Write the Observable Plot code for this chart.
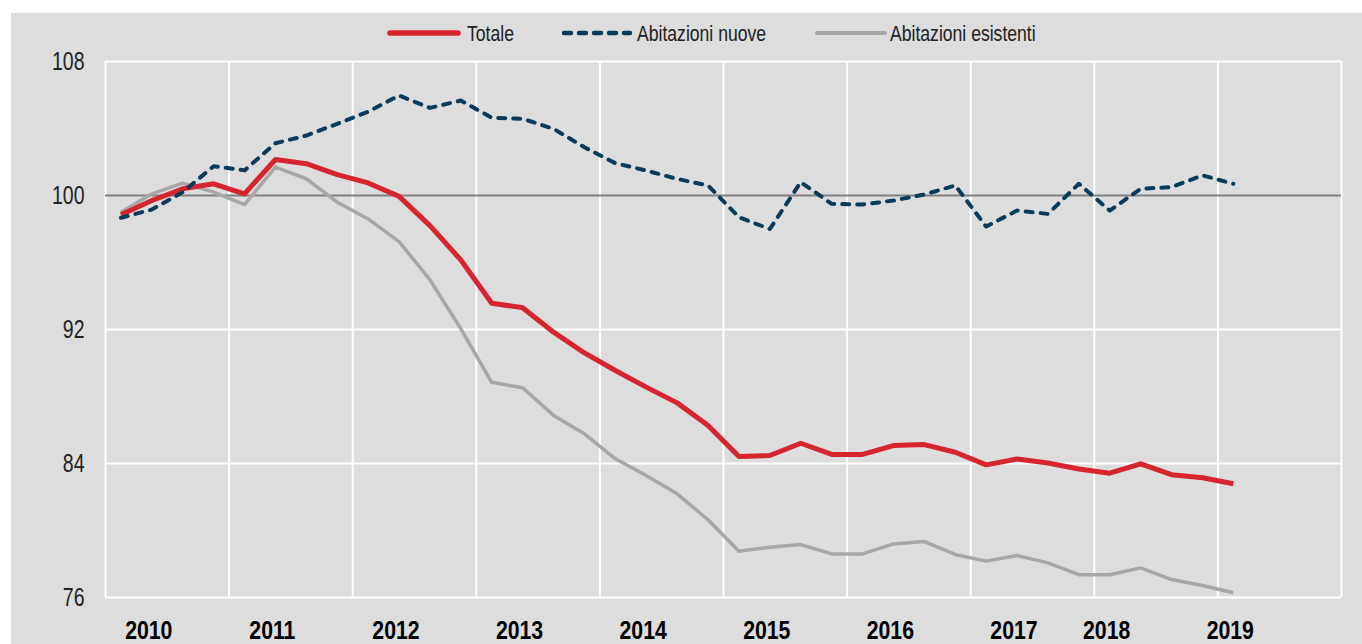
<!DOCTYPE html>
<html>
<head>
<meta charset="utf-8">
<script src="https://cdn.jsdelivr.net/npm/d3@7"></script>
<script src="https://cdn.jsdelivr.net/npm/@observablehq/plot@0.6"></script>
<style>
  html, body { margin: 0; padding: 0; background: #ffffff; }
  body { width: 1362px; height: 644px; overflow: hidden; position: relative; }
  #panel {
    position: absolute; left: 11px; top: 13px; width: 1351px; height: 631px;
    background: #dddddd; overflow: hidden;
    font-family: "Liberation Sans Narrow", "Arial Narrow", "Liberation Sans", Arial, sans-serif;
  }
  #legend, #chart { line-height: 0; }
  #legend svg, #chart svg { display: block; }
</style>
</head>
<body>
<div id="panel">
  <div id="legend"></div>
  <div id="chart"></div>
</div>
<script>
// Quarterly axis categories (2010 T1 .. 2019 T4)
const quarters = [
  "2010 T1","2010 T2","2010 T3","2010 T4",
  "2011 T1","2011 T2","2011 T3","2011 T4",
  "2012 T1","2012 T2","2012 T3","2012 T4",
  "2013 T1","2013 T2","2013 T3","2013 T4",
  "2014 T1","2014 T2","2014 T3","2014 T4",
  "2015 T1","2015 T2","2015 T3","2015 T4",
  "2016 T1","2016 T2","2016 T3","2016 T4",
  "2017 T1","2017 T2","2017 T3","2017 T4",
  "2018 T1","2018 T2","2018 T3","2018 T4",
  "2019 T1","2019 T2","2019 T3","2019 T4"
];

// Series values (2010 T1 .. 2019 T1)
const totale = [98.85, 99.7, 100.4, 100.7, 100.1, 102.15, 101.9, 101.25, 100.75, 99.95,
  98.2, 96.15, 93.57, 93.3, 91.84, 90.6, 89.55, 88.56, 87.62, 86.27,
  84.42, 84.48, 85.21, 84.54, 84.54, 85.07, 85.13, 84.67, 83.92, 84.27,
  84.03, 83.67, 83.42, 83.98, 83.33, 83.15, 82.79];
const nuove = [98.67, 99.16, 100.2, 101.75, 101.5, 103.12, 103.58, 104.28, 105.0, 105.97,
  105.23, 105.67, 104.64, 104.58, 103.98, 102.88, 101.93, 101.49, 100.99, 100.6,
  98.7, 98.0, 100.8, 99.5, 99.46, 99.7, 100.06, 100.6, 98.15, 99.1,
  98.9, 100.7, 99.1, 100.4, 100.5, 101.2, 100.7];
const esistenti = [99.0, 100.1, 100.74, 100.2, 99.46, 101.7, 101.0, 99.6, 98.6, 97.25,
  94.97, 92.04, 88.85, 88.52, 86.87, 85.77, 84.28, 83.28, 82.19, 80.64,
  78.76, 79.0, 79.16, 78.6, 78.6, 79.2, 79.34, 78.57, 78.17, 78.51,
  78.07, 77.36, 77.36, 77.77, 77.07, 76.72, 76.28];

const seriesNames = ["Totale", "Abitazioni nuove", "Abitazioni esistenti"];
const yTicks = [76, 84, 92, 100, 108];
const yearLabels = ["2010","2011","2012","2013","2014","2015","2016","2017","2018","2019"];
const yearLabelQuarters = ["2010 T2","2011 T2","2012 T2","2013 T2","2014 T2","2015 T2","2016 T2","2017 T2","2018 T1","2019 T1"];
const yearStartQuarters = ["2010 T1","2011 T1","2012 T1","2013 T1","2014 T1","2015 T1","2016 T1","2017 T1","2018 T1","2019 T1"];

const colors = { "Totale": "#d6252f", "Abitazioni nuove": "#0b3b5b", "Abitazioni esistenti": "#a7a7a7" };
const widths = { "Totale": 5, "Abitazioni nuove": 4, "Abitazioni esistenti": 3.5 };
const dashes = { "Totale": null, "Abitazioni nuove": "7,8", "Abitazioni esistenti": null };

const qIndex = q => quarters.indexOf(q);
const table = totale.map((v, i) => ({
  q: quarters[i],
  Totale: totale[i],
  "Abitazioni nuove": nuove[i],
  "Abitazioni esistenti": esistenti[i]
}));
const xPos = d => qIndex(d.q) + 0.5;

// grid positions at year boundaries (band edges), plus the right edge
const gridX = yearStartQuarters.map(qIndex).concat([quarters.length]);
const labelPos = yearLabelQuarters.map(q => qIndex(q) + 0.4);
const labelMap = new Map(labelPos.map((p, i) => [p, yearLabels[i]]));

const font = '"Liberation Sans Narrow", "Arial Narrow", "Liberation Sans", Arial, sans-serif';

const lineMark = name => Plot.line(table, {
  x: xPos, y: name,
  stroke: colors[name], strokeWidth: widths[name],
  strokeDasharray: dashes[name] || undefined,
  strokeLinecap: dashes[name] ? "round" : "butt",
  strokeLinejoin: "round"
});

const chart = Plot.plot({
  width: 1351,
  height: 593,
  marginLeft: 94,
  marginRight: 21,
  marginTop: 10,
  marginBottom: 47,
  x: { domain: [0, quarters.length] },
  y: { domain: [76, 108] },
  style: { background: "transparent", fontFamily: font, overflow: "visible" },
  marks: [
    Plot.ruleX(gridX, { stroke: "#ffffff", strokeWidth: 2 }),
    Plot.ruleY(yTicks.filter(t => t !== 100), { stroke: "#ffffff", strokeWidth: 2 }),
    Plot.ruleY([100], { stroke: "#808080", strokeWidth: 2 }),
    lineMark("Abitazioni esistenti"),
    lineMark("Totale"),
    lineMark("Abitazioni nuove"),
    Plot.axisY({ ticks: yTicks, tickSize: 0, tickPadding: 21, fontSize: 26, fill: "#222", label: null,
      ariaLabel: "y-axis" }),
    Plot.axisX({ ticks: labelPos, tickFormat: p => labelMap.get(p), tickSize: 0, tickPadding: 24,
      fontSize: 25, fontWeight: "bold", fill: "#000", label: null, ariaLabel: "x-axis" })
  ]
});
// narrow the axis text horizontally (condensed face look)
d3.select(chart).selectAll('g[aria-label="y-axis tick label"] text, g[aria-label="y-axis"] text').each(function() {
  const t = this.getAttribute("transform") || "";
  this.setAttribute("transform", t + " scale(0.75,1)");
});
d3.select(chart).selectAll('g[aria-label="x-axis tick label"] text, g[aria-label="x-axis"] text').each(function() {
  const t = this.getAttribute("transform") || "";
  this.setAttribute("transform", t + " scale(0.85,1)");
});
document.getElementById("chart").appendChild(chart);

// Legend (drawn as a small SVG above the chart)
const legendSwatchX = [377, 550, 804];
const legendTextX = [456, 626, 879];
const lg = d3.select("#legend").append("svg").attr("width", 1351).attr("height", 38);
seriesNames.forEach((name, i) => {
  const dashed = !!dashes[name];
  lg.append("line")
    .attr("x1", legendSwatchX[i] + (dashed ? 3 : 2)).attr("x2", legendSwatchX[i] + (dashed ? 69 : 70))
    .attr("y1", 20).attr("y2", 20)
    .attr("stroke", colors[name]).attr("stroke-width", widths[name] + 0.5)
    .attr("stroke-dasharray", dashes[name] || null)
    .attr("stroke-linecap", "round");
  lg.append("text")
    .attr("transform", `translate(${legendTextX[i]},28) scale(0.8,1)`)
    .attr("font-family", font).attr("font-size", 22).attr("fill", "#222")
    .text(name);
});
</script>
</body>
</html>
